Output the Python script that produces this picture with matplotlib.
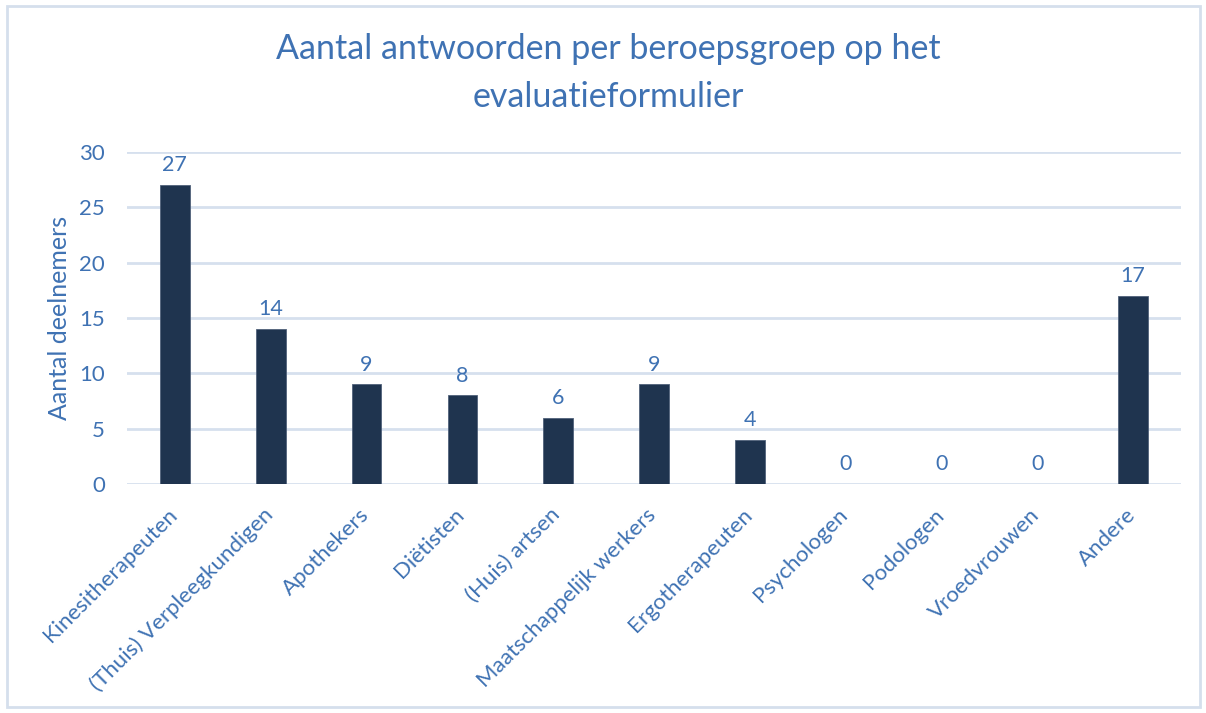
import matplotlib
matplotlib.use("Agg")
import matplotlib.pyplot as plt
import matplotlib.transforms as mtransforms
from matplotlib.patches import Rectangle

categories = ["Kinesitherapeuten", "(Thuis) Verpleegkundigen", "Apothekers", "Diëtisten",
              "(Huis) artsen", "Maatschappelijk werkers", "Ergotherapeuten", "Psychologen",
              "Podologen", "Vroedvrouwen", "Andere"]
values = [27, 14, 9, 8, 6, 9, 4, 0, 0, 0, 17]
yticks = [0, 5, 10, 15, 20, 25, 30]

plt.rcParams['font.family'] = ['Lato', 'DejaVu Sans']
blue = '#3F72B3'
bar_color = '#1F344F'
grid_color = '#D6E0EE'

fig = plt.figure(figsize=(12.06, 7.13), dpi=100)
fig.patches.append(Rectangle((0.006, 0.008), 0.989, 0.983, transform=fig.transFigure,
                             fill=False, edgecolor='#D5DFEC', linewidth=2))
ax = fig.add_axes([127/1206, 1-484/713, (1181-127)/1206, (484-152)/713])

x = list(range(len(categories)))
bars = ax.bar(x, values, width=0.31, color=bar_color, edgecolor='#50617A', linewidth=0.6, zorder=3)
for xi, v in zip(x, values):
    ax.annotate(str(v), (xi, v), xytext=(0, 7), textcoords='offset points',
                ha='center', va='bottom', fontsize=15.5, color=blue)

ax.set_xlim(-0.5, len(categories) - 0.5)
ax.set_ylim(0, 30)
ax.set_yticks(yticks)
ax.set_yticklabels([str(t) for t in yticks], fontsize=16, color=blue)
ax.yaxis.grid(True, color=grid_color, linewidth=2, zorder=0)
ax.set_axisbelow(True)
for s in ax.spines.values():
    s.set_visible(False)
ax.tick_params(axis='both', length=0)
ax.tick_params(axis='y', pad=16)
ax.set_xticks(x)
ax.set_xticklabels(categories, rotation=45, ha='right', rotation_mode='anchor',
                   fontsize=16, color=blue)
ax.tick_params(axis='x', pad=12)
offset = mtransforms.ScaledTranslation(-8/100, -4/100, fig.dpi_scale_trans)
for lbl in ax.get_xticklabels():
    lbl.set_transform(lbl.get_transform() + offset)
ax.set_ylabel("Aantal deelnemers", fontsize=18, color=blue, labelpad=6)

fig.suptitle("Aantal antwoorden per beroepsgroep op het\nevaluatieformulier",
             x=(272+945)/2/1206, y=1-33/713, fontsize=24.5, color=blue, va='top', linespacing=1.6)

fig.savefig("out.png", dpi=100, facecolor='white')
